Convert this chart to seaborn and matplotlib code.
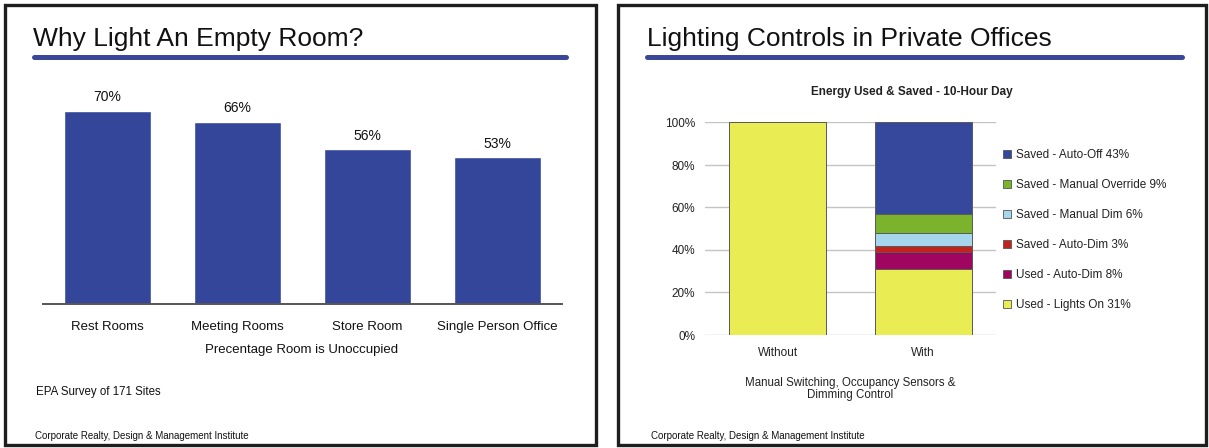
import numpy as np
import matplotlib
matplotlib.use("Agg")
import matplotlib.pyplot as plt
from matplotlib.patches import Rectangle, Patch
from matplotlib.lines import Line2D
import seaborn as sns

sns.set_theme(style="white")
plt.rcParams["font.family"] = ["Liberation Sans", "DejaVu Sans"]

# ---- dados: painel esquerdo ----
rooms = ["Rest Rooms", "Meeting Rooms", "Store Room", "Single Person Office"]
unoccupied_pct = [70, 66, 56, 53]

# ---- dados: painel direito (de baixo para cima) ----
scenarios = ["Without", "With"]
series_names = ["Used - Lights On 31%", "Used - Auto-Dim 8%", "Saved - Auto-Dim 3%",
                "Saved - Manual Dim 6%", "Saved - Manual Override 9%", "Saved - Auto-Off 43%"]
lights_on = [100, 31]
used_autodim = [0, 8]
saved_autodim = [0, 3]
saved_manual_dim = [0, 6]
saved_override = [0, 9]
saved_auto_off = [0, 43]
series_colors = ["#e9ec52", "#a0065f", "#c0241c", "#a6d6ec", "#7bb42c", "#35489b"]

BLUE = "#3a4897"
W, H = 1209, 448


def box(x0, y0, x1, y1):
    # pixel box (top-left origin) -> figure fraction rect
    return [x0 / W, 1 - y1 / H, (x1 - x0) / W, (y1 - y0) / H]


def fy(y):
    return 1 - y / H


fig = plt.figure(figsize=(W / 100, H / 100), dpi=100)
fig.patch.set_facecolor("white")

# molduras, títulos, filetes e rodapés
for (x0, x1) in [(5, 596), (618, 1206)]:
    fig.add_artist(Rectangle((x0 / W, fy(445)), (x1 - x0) / W, 440 / H, fill=False,
                             edgecolor="#1e1e1e", lw=2.4, transform=fig.transFigure))

fig.text(33 / W, fy(46), "Why Light An Empty Room?", fontsize=19, color="#111", va="baseline")
fig.text(647 / W, fy(46), "Lighting Controls in Private Offices", fontsize=19, color="#111",
         va="baseline")
fig.add_artist(Line2D([34 / W, 566 / W], [fy(57.5)] * 2, color=BLUE, lw=3.6,
                      transform=fig.transFigure))
fig.add_artist(Line2D([647 / W, 1182 / W], [fy(57.5)] * 2, color=BLUE, lw=3.6,
                      transform=fig.transFigure))

fig.text(36 / W, fy(392), "EPA Survey of 171 Sites", fontsize=8.3, color="#111", va="center")
fig.text(35 / W, fy(436), "Corporate Realty, Design & Management Institute", fontsize=7,
         color="#111", va="center")
fig.text(651 / W, fy(436), "Corporate Realty, Design & Management Institute", fontsize=7,
         color="#111", va="center")

# ---- painel esquerdo: barras simples ----
ax1 = fig.add_axes(box(42.5, 90, 562, 303.5))
ax1.patch.set_alpha(0)
sns.barplot(x=rooms, y=unoccupied_pct, color="#34469a", saturation=1, width=0.67,
            errorbar=None, ax=ax1)
ax1.set_ylim(0, (303.5 - 90) / 2.757)
for i, v in enumerate(unoccupied_pct):
    ax1.annotate(f"{v}%", (i, v), xytext=(0, 9.7), textcoords="offset points",
                 ha="center", va="center", fontsize=10, color="#111")
ax1.set_yticks([])
ax1.set_ylabel("")
for s in ["left", "right", "top"]:
    ax1.spines[s].set_visible(False)
ax1.spines["bottom"].set_color("#555")
ax1.spines["bottom"].set_linewidth(1.4)
ax1.tick_params(axis="x", length=0, pad=12.5, labelsize=9.5, labelcolor="#111")
fig.text(302 / W, fy(349.5), "Precentage Room is Unoccupied", fontsize=9.5, color="#111",
         ha="center", va="center")

# ---- painel direito: barras empilhadas (sobrepostas pelo acumulado) ----
ax2 = fig.add_axes(box(705, 122.5, 996, 335))
ax2.patch.set_alpha(0)
stack = np.array([lights_on, used_autodim, saved_autodim, saved_manual_dim,
                  saved_override, saved_auto_off])
cum = np.cumsum(stack, axis=0)
for k in range(len(series_names) - 1, -1, -1):
    sns.barplot(x=scenarios, y=cum[k], color=series_colors[k], saturation=1, width=0.67,
                errorbar=None, edgecolor="#5a5a5a", linewidth=0.7, ax=ax2)
ax2.set_ylim(0, 100)
ax2.set_yticks(range(0, 101, 20))
ax2.set_yticklabels([f"{v}%" for v in range(0, 101, 20)])
ax2.yaxis.grid(True, color="#c4c4c4", lw=1)
ax2.set_axisbelow(True)
for s in ax2.spines.values():
    s.set_visible(False)
ax2.tick_params(axis="y", length=0, pad=7, labelsize=8.5, labelcolor="#222")
ax2.tick_params(axis="x", length=0, pad=9, labelsize=8.5, labelcolor="#222")
ax2.set_ylabel("")

fig.text(912 / W, fy(92), "Energy Used & Saved - 10-Hour Day", fontsize=8.5,
         fontweight="bold", color="#222", ha="center", va="center")
fig.text(850.5 / W, fy(389), "Manual Switching, Occupancy Sensors &\nDimming Control",
         fontsize=8.3, color="#222", ha="center", va="center", linespacing=1.1)

handles = [Patch(facecolor=c, edgecolor="#555", lw=0.6) for c in series_colors][::-1]
ax2.legend(handles, series_names[::-1], loc="upper left", frameon=False,
           bbox_to_anchor=(1003 / W, fy(149)), bbox_transform=fig.transFigure,
           borderaxespad=0, borderpad=0, fontsize=8.5, handlelength=0.68,
           handleheight=0.68, handletextpad=0.4, labelspacing=1.53, labelcolor="#222")

fig.savefig("out.png", dpi=100)
